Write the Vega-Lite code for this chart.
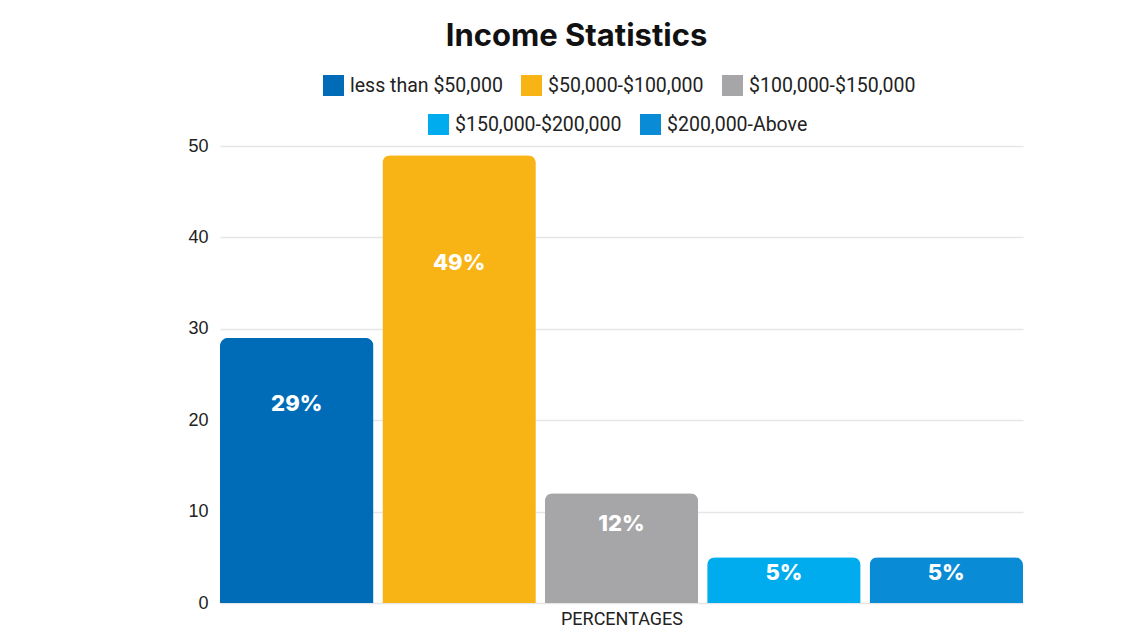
{
  "$schema": "https://vega.github.io/schema/vega-lite/v6.json",
  "width": 803,
  "height": 457,
  "autosize": {"type": "none"},
  "padding": {"left": 220, "top": 146, "right": 125, "bottom": 30},
  "background": "white",
  "title": {
    "text": "Income Statistics",
    "font": "Inter",
    "fontSize": 31,
    "fontWeight": "bold",
    "color": "#111111",
    "anchor": "middle",
    "frame": "group",
    "dx": -45,
    "offset": 22
  },
  "config": {
    "view": {"stroke": null},
    "axis": {"labelFont": "Liberation Sans", "titleFont": "Roboto"}
  },
  "data": {
    "values": [
      {"category": "less than $50,000", "value": 29, "label": "29%"},
      {"category": "$50,000-$100,000", "value": 49, "label": "49%"},
      {"category": "$100,000-$150,000", "value": 12, "label": "12%"},
      {"category": "$150,000-$200,000", "value": 5, "label": "5%"},
      {"category": "$200,000-Above", "value": 5, "label": "5%"}
    ]
  },
  "encoding": {
    "x": {
      "field": "category",
      "type": "nominal",
      "scale": {
        "domain": ["less than $50,000", "$50,000-$100,000", "$100,000-$150,000", "$150,000-$200,000", "$200,000-Above"],
        "paddingInner": 0.055,
        "paddingOuter": 0
      },
      "axis": {
        "labels": false,
        "ticks": false,
        "domain": false,
        "title": "PERCENTAGES",
        "titleFontSize": 18,
        "titleFontWeight": "normal",
        "titleColor": "#222222",
        "titlePadding": 7
      }
    }
  },
  "layer": [
    {
      "transform": [{"filter": {"field": "category", "oneOf": ["less than $50,000", "$50,000-$100,000", "$100,000-$150,000"]}}],
      "mark": {"type": "bar", "cornerRadiusTopLeft": 8, "cornerRadiusTopRight": 8},
      "encoding": {
        "y": {
          "field": "value",
          "type": "quantitative",
          "scale": {"domain": [0, 50]},
          "axis": {
            "values": [0, 10, 20, 30, 40, 50],
            "title": null,
            "domain": false,
            "ticks": false,
            "labelFontSize": 18,
            "labelColor": "#222222",
            "labelPadding": 12,
            "gridColor": "#e6e6e6",
            "gridWidth": 1.5
          }
        },
        "color": {
          "field": "category",
          "type": "nominal",
          "scale": {
            "domain": ["less than $50,000", "$50,000-$100,000", "$100,000-$150,000"],
            "range": ["#006cb7", "#f8b314", "#a6a6a9"]
          },
          "legend": {
            "orient": "none",
            "legendX": 103,
            "legendY": -71,
            "direction": "horizontal",
            "title": null,
            "symbolType": "square",
            "symbolSize": 441,
            "symbolStrokeWidth": 0,
            "symbolOpacity": 1,
            "labelFont": "Roboto",
            "labelFontSize": 19.5,
            "labelLimit": 400,
            "labelColor": "#222222",
            "labelOffset": 6,
            "columnPadding": 18
          }
        }
      }
    },
    {
      "transform": [{"filter": {"field": "category", "oneOf": ["$150,000-$200,000", "$200,000-Above"]}}],
      "mark": {"type": "bar", "cornerRadiusTopLeft": 8, "cornerRadiusTopRight": 8},
      "encoding": {
        "y": {
          "field": "value",
          "type": "quantitative",
          "scale": {"domain": [0, 50]},
          "axis": null
        },
        "color": {
          "field": "category",
          "type": "nominal",
          "scale": {
            "domain": ["$150,000-$200,000", "$200,000-Above"],
            "range": ["#00aced", "#0a8bd6"]
          },
          "legend": {
            "orient": "none",
            "legendX": 208,
            "legendY": -32,
            "direction": "horizontal",
            "title": null,
            "symbolType": "square",
            "symbolSize": 441,
            "symbolStrokeWidth": 0,
            "symbolOpacity": 1,
            "labelFont": "Roboto",
            "labelFontSize": 19.5,
            "labelLimit": 400,
            "labelColor": "#222222",
            "labelOffset": 6,
            "columnPadding": 18
          }
        }
      }
    },
    {
      "mark": {"type": "text", "color": "white", "font": "Inter", "fontWeight": 800, "fontSize": 22, "baseline": "middle", "dy": 5},
      "encoding": {
        "y": {
          "field": "value",
          "type": "quantitative",
          "scale": {"domain": [0, 65]},
          "axis": null
        },
        "text": {"field": "label"}
      }
    }
  ],
  "resolve": {"scale": {"color": "independent", "y": "independent"}}
}
